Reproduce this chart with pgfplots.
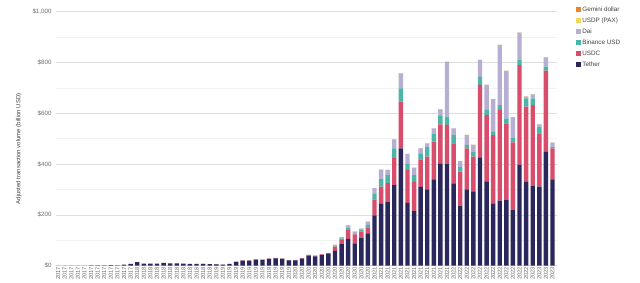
\documentclass[border=0pt]{standalone}
\usepackage{pgfplots}
\usepackage{pgfplotstable}
\usepackage{fontspec}
\setmainfont{Liberation Sans}
\pgfplotsset{compat=1.18}
\definecolor{tether}{HTML}{2A275C}
\definecolor{usdc}{HTML}{D84C6C}
\definecolor{busd}{HTML}{4CB5A6}
\definecolor{dai}{HTML}{B7AED4}
\definecolor{usdp}{HTML}{F2D75E}
\definecolor{gusd}{HTML}{E5862F}
\definecolor{tickgray}{HTML}{6E6E6E}
\pgfplotstableread{
x T U B D P G
0 0.3 0 0 0 0 0
1 0.3 0 0 0 0 0
2 0.4 0 0 0 0 0
3 0.5 0 0 0 0 0
4 0.7 0 0 0 0 0
5 0.9 0 0 0 0 0
6 1.0 0 0 0 0 0
7 1.0 0 0 0 0 0
8 2.5 0 0 0 0 0
9 1.5 0 0 0 0 0
10 4 0 0 0 0 0
11 7 0 0 0 0 0
12 14 0 0 0 0 0
13 8 0 0 0 0 0
14 8 0 0 0 0 0
15 8 0 0 0 0 0
16 11 0 0 0 0 0
17 9 0 0 0 0 0
18 9 0 0 0 0 0
19 8 0 0 0 0 0
20 7 0 0 0 0 0
21 7 0 0 0 0 0
22 7 0.1 0 0 0 0
23 6 0.2 0 0 0 0
24 5.5 0.3 0 0.2 0.1 0
25 4 0.3 0 0.2 0.1 0
26 6.5 0.4 0 0.3 0.1 0
27 15 0.5 0 0.3 0.1 0
28 20 0.6 0 0.3 0.1 0
29 20 0.6 0 0.3 0.1 0
30 24 0.7 0 0.3 0.1 0
31 23 0.7 0 0.3 0.1 0
32 27 0.8 0.1 0.3 0.1 0
33 29 0.8 0.2 0.3 0.1 0
34 27 0.9 0.2 0.3 0.1 0
35 21 0.9 0.2 0.3 0.1 0
36 21 1.0 0.3 0.3 0.1 0
37 28 1.5 0.3 0.4 0.1 0
38 40 2.0 0.4 0.5 0.1 0
39 37 2.0 0.4 0.5 0.1 0
40 42 2.5 0.5 0.6 0.1 0
41 46 3.0 0.6 0.8 0.1 0
42 58 17 3 3 0.5 0.1
43 85 17 5 5 0.5 0.1
44 106 34 8 11 0.5 0.1
45 88 35 4 6 0.5 0.1
46 108 26 6 6 0.5 0.1
47 127 24 10 12 0.5 0.1
48 198 62 22 23 0.5 0.1
49 243 68 30 37 0.5 0.1
50 252 73 31 20 0.5 0.1
51 317 106 39 35 0.5 0.1
52 462 183 53 59 0.5 0.1
53 247 130 26 36 0.5 0.1
54 215 115 26 29 0.5 0.1
55 310 108 24 20 0.5 0.1
56 300 129 37 15 0.5 0.1
57 340 148 30 22 0.5 0.1
58 401 155 35 24 0.5 0.1
59 402 152 32 216 0.5 0.1
60 324 157 33 26 0.5 0.1
61 236 134 19 22 0.5 0.1
62 300 162 13 39 0.5 0.1
63 292 137 20 26 0.5 0.1
64 426 285 32 66 0.5 0.1
65 332 261 20 98 0.5 0.1
66 245 269 14 127 0.5 0.1
67 256 357 19 236 0.5 0.1
68 258 302 20 186 0.5 0.1
69 221 264 17 82 0.5 0.1
70 398 391 20 108 0.5 0.1
71 330 296 32 7 0.5 0.1
72 313 319 26 16 0.5 0.1
73 311 210 26 9 0.5 0.1
74 448 319 16 37 0.5 0.1
75 340 122 6 16 0.5 0.1
}\data
\begin{document}
\begin{tikzpicture}
\useasboundingbox (0,0) rectangle (640pt,283pt);
\begin{axis}[
  at={(56pt,17.3pt)}, anchor=south west,
  scale only axis, width=500.7pt, height=254.2pt,
  ybar stacked, bar width=4.4pt,
  xmin=-0.32, xmax=75.64, ymin=0, ymax=1000,
  axis line style={draw=none},
  major tick length=0pt, minor tick length=0pt,
  ytick={0,200,400,600,800,1000},
  yticklabels={\$0,\$200,\$400,\$600,\$800,\$1{,}000},
  minor ytick={100,300,500,700,900},
  ymajorgrids, yminorgrids,
  major grid style={draw=black!13, line width=0.6pt},
  minor grid style={draw=black!5, line width=0.5pt},
  yticklabel style={font=\fontsize{6.2}{7}\selectfont, text=tickgray, xshift=-1pt},
  xtick={0,...,75},
  xticklabels={2017,2017,2017,2017,2017,2017,2017,2017,2017,2017,2017,2017,
    2018,2018,2018,2018,2018,2018,2018,2018,2018,2018,2018,2018,
    2019,2019,2019,2019,2019,2019,2019,2019,2019,2019,2019,2019,
    2020,2020,2020,2020,2020,2020,2020,2020,2020,2020,2020,2020,
    2021,2021,2021,2021,2021,2021,2021,2021,2021,2021,2021,2021,
    2022,2022,2022,2022,2022,2022,2022,2022,2022,2022,2022,2022,
    2023,2023,2023,2023},
  xticklabel style={font=\fontsize{5.8}{6}\selectfont, text=tickgray, rotate=90, anchor=east, inner sep=1pt},
  ylabel={Adjusted transaction volume (billion USD)},
  ylabel style={at={(axis description cs:-0.074,0.46)}, anchor=center, font=\fontsize{6}{7}\selectfont, text=black!75},
  reverse legend,
  legend style={at={(axis description cs:1.0385,1.0256)}, anchor=north west, draw=none, fill=none,
    font=\fontsize{6.3}{7}\selectfont, text=black!75, inner sep=0pt,
    row sep=2.4pt, nodes={inner sep=1.2pt, text height=5pt, text depth=1.2pt}},
  legend cell align=left,
  legend image code/.code={\fill (0pt,-2.5pt) rectangle (5pt,2.5pt);},
  every axis plot/.append style={draw=none},
]
\addplot[fill=tether] table[x=x,y=T]{\data};
\addplot[fill=usdc] table[x=x,y=U]{\data};
\addplot[fill=busd] table[x=x,y=B]{\data};
\addplot[fill=dai] table[x=x,y=D]{\data};
\addplot[fill=usdp] table[x=x,y=P]{\data};
\addplot[fill=gusd] table[x=x,y=G]{\data};
\legend{Tether,USDC,Binance USD,Dai,USDP (PAX),Gemini dollar}
\end{axis}
\end{tikzpicture}
\end{document}
